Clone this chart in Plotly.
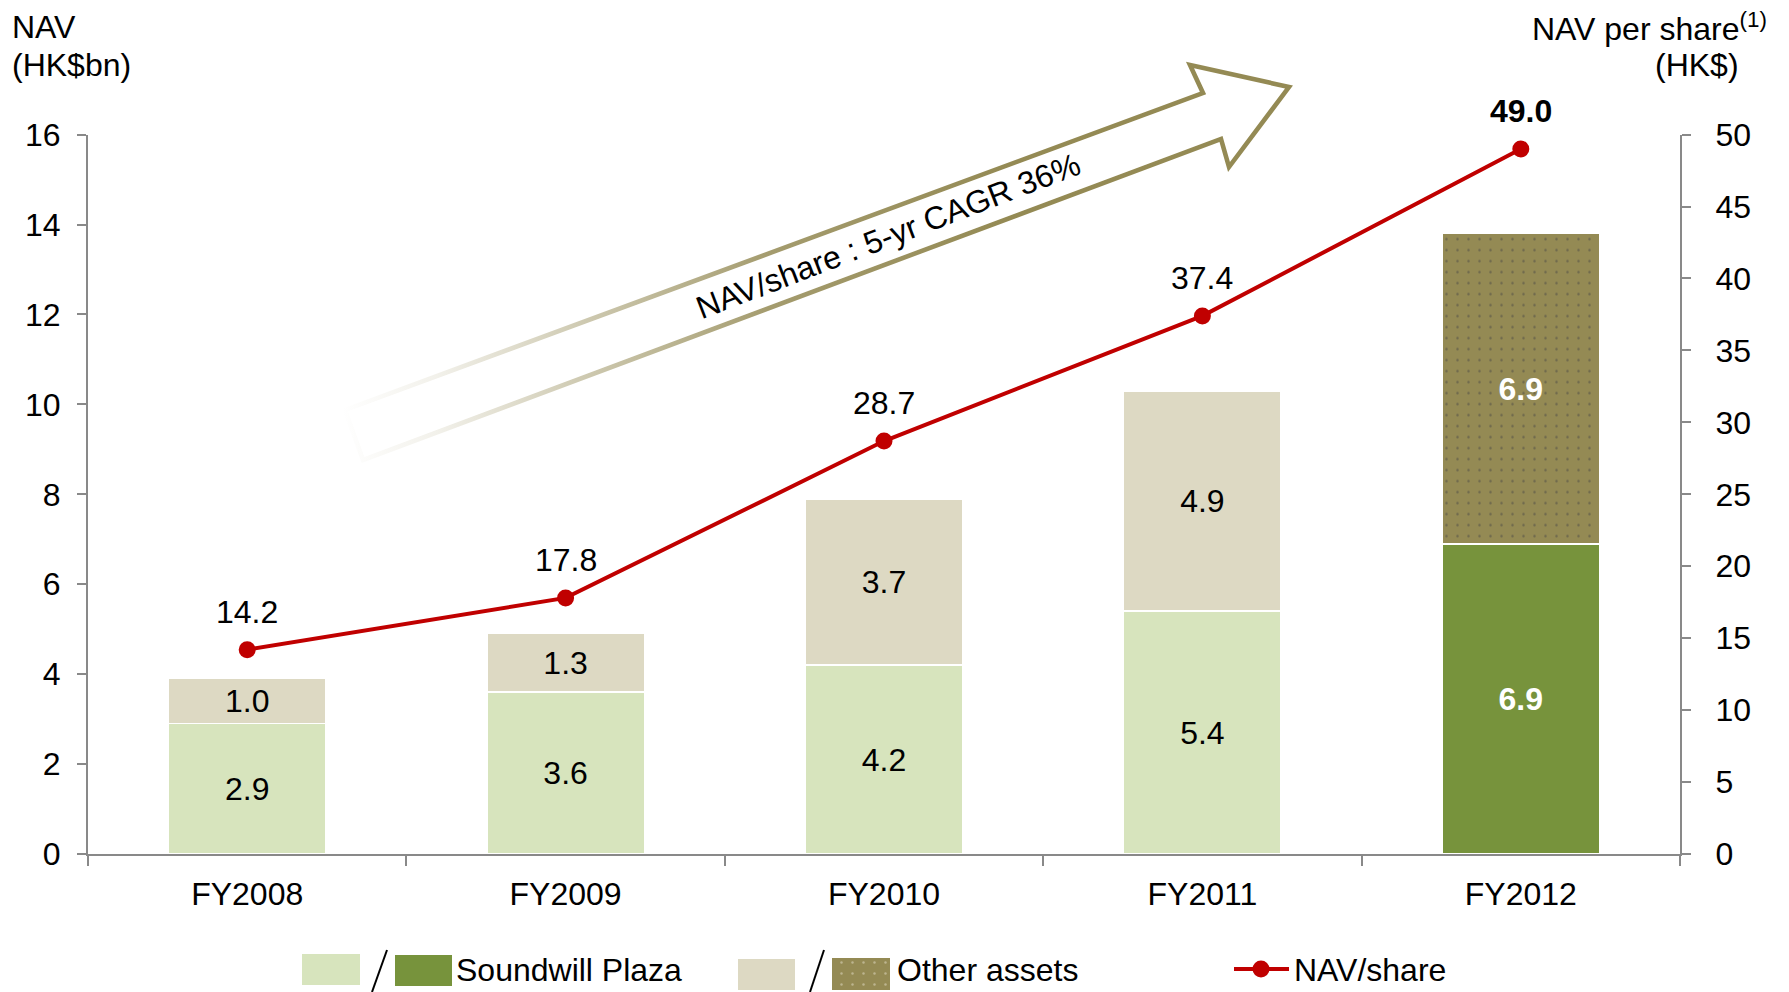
import numpy as np
import plotly.graph_objects as go

W, H = 1789, 992

# ---- data -------------------------------------------------------------
years = ["FY2008", "FY2009", "FY2010", "FY2011", "FY2012"]
soundwill_plaza = [2.9, 3.6, 4.2, 5.4, 6.9]      # HK$bn
other_assets = [1.0, 1.3, 3.7, 4.9, 6.9]         # HK$bn
nav_per_share = [14.2, 17.8, 28.7, 37.4, 49.0]   # HK$

nav_ticks = [0, 2, 4, 6, 8, 10, 12, 14, 16]
nps_ticks = [0, 5, 10, 15, 20, 25, 30, 35, 40, 45, 50]
latest_year = "FY2012"

# ---- styling ----------------------------------------------------------
LIGHT_GREEN = "#D7E4BD"
DARK_GREEN = "#77933C"
BEIGE = "#DDD9C3"
OLIVE = "#948A54"
DOT = "#E4DFC9"
RED = "#C00000"
GREY = "#898989"
FONT = "Arial, Liberation Sans, sans-serif"
FS = 32

highlight = [y == latest_year for y in years]
bottom_colors = [DARK_GREEN if h else LIGHT_GREEN for h in highlight]
top_colors = [OLIVE if h else BEIGE for h in highlight]
top_patterns = ["." if h else "" for h in highlight]
label_colors = ["white" if h else "black" for h in highlight]


def fmt(v, bold):
    return f"<b>{v:.1f}</b>" if bold else f"{v:.1f}"


fig = go.Figure()

# stacked NAV bars
fig.add_bar(
    x=years, y=soundwill_plaza, width=0.495,
    marker=dict(color=bottom_colors, line=dict(color="white", width=1.5)),
    text=[fmt(v, h) for v, h in zip(soundwill_plaza, highlight)],
    textposition="inside", insidetextanchor="middle", textangle=0,
    textfont=dict(family=FONT, size=FS, color=label_colors),
    hoverinfo="skip", showlegend=False,
)
fig.add_bar(
    x=years, y=other_assets, width=0.495,
    marker=dict(color=top_colors, line=dict(color="white", width=1.5),
                pattern=dict(shape=top_patterns, fgcolor=DOT, size=11, solidity=0.04)),
    text=[fmt(v, h) for v, h in zip(other_assets, highlight)],
    textposition="inside", insidetextanchor="middle", textangle=0,
    textfont=dict(family=FONT, size=FS, color=label_colors),
    hoverinfo="skip", showlegend=False,
)

# NAV per share line on the right axis
fig.add_scatter(
    x=years, y=nav_per_share, yaxis="y2", mode="lines+markers",
    line=dict(color=RED, width=4), marker=dict(color=RED, size=17),
    hoverinfo="skip", showlegend=False,
)
for yr, v, h in zip(years, nav_per_share, highlight):
    fig.add_annotation(x=yr, y=v, xref="x", yref="y2", yshift=38,
                       text=fmt(v, h), showarrow=False,
                       font=dict(family=FONT, size=FS, color="black"))


# ---- growth arrow (pixel overlay axes x3/y3) ---------------------------
def offset_polygon(pts, d):
    p = np.asarray(pts, float)
    n = len(p)
    area = 0.5 * np.sum(p[:, 0] * np.roll(p[:, 1], -1) - np.roll(p[:, 0], -1) * p[:, 1])
    sign = 1.0 if area > 0 else -1.0
    out = []
    for i in range(n):
        a, b, c = p[i - 1], p[i], p[(i + 1) % n]
        e1 = (b - a) / np.linalg.norm(b - a)
        e2 = (c - b) / np.linalg.norm(c - b)
        n1 = np.array([e1[1], -e1[0]])
        n2 = np.array([e2[1], -e2[0]])
        m = n1 + n2
        m /= np.linalg.norm(m)
        out.append(b + m * d * sign / np.dot(m, n1))
    out.append(out[0])
    return np.array(out)


arrow_outline = [(345, 410), (1203, 93), (1190, 65), (1289, 87),
                 (1229, 167), (1221, 139), (363, 460)]
outer = offset_polygon(arrow_outline, 2.3)
inner = offset_polygon(arrow_outline, -2.3)

fig.add_scatter(
    x=outer[:, 0], y=outer[:, 1], xaxis="x3", yaxis="y3", mode="lines",
    line=dict(width=0), fill="toself",
    fillgradient=dict(type="horizontal", colorscale=[
        [0.0, "rgba(148,138,84,0)"], [0.1, "rgba(148,138,84,0.12)"],
        [0.25, "rgba(148,138,84,0.45)"], [0.45, "rgba(148,138,84,0.85)"],
        [0.7, "rgba(148,138,84,1)"], [1.0, "rgba(148,138,84,1)"]]),
    hoverinfo="skip", showlegend=False,
)
fig.add_scatter(
    x=inner[:, 0], y=inner[:, 1], xaxis="x3", yaxis="y3", mode="lines",
    line=dict(width=0), fill="toself", fillcolor="white",
    hoverinfo="skip", showlegend=False,
)
fig.add_annotation(x=888, y=236, xref="x3", yref="y3", textangle=-21,
                   text="NAV/share : 5-yr CAGR 36%", showarrow=False,
                   font=dict(family=FONT, size=FS, color="black"))

# ---- legend -----------------------------------------------------------
shapes = [
    dict(type="rect", x0=302, x1=360, y0=954, y1=985, fillcolor=LIGHT_GREEN),
    dict(type="line", x0=372, y0=992, x1=387, y1=950, line=dict(color="black", width=2)),
    dict(type="rect", x0=395, x1=452, y0=955, y1=986, fillcolor=DARK_GREEN),
    dict(type="rect", x0=738, x1=795, y0=959, y1=990, fillcolor=BEIGE),
    dict(type="line", x0=810, y0=992, x1=824, y1=950, line=dict(color="black", width=2)),
    dict(type="line", x0=1234, y0=969, x1=1289, y1=969, line=dict(color=RED, width=4)),
    dict(type="circle", x0=1252.5, x1=1269.5, y0=960.5, y1=977.5, fillcolor=RED,
         line=dict(color=RED, width=0)),
]
for s in shapes:
    s.update(xref="x3", yref="y3", layer="above")
    if s["type"] != "line":
        s.setdefault("line", dict(width=0))
fig.update_layout(shapes=shapes)

fig.add_scatter(
    x=[832, 890, 890, 832, 832], y=[958, 958, 990, 990, 958], xaxis="x3", yaxis="y3",
    mode="lines", line=dict(width=0), fill="toself", fillcolor=OLIVE,
    fillpattern=dict(shape=".", fgcolor=DOT, bgcolor=OLIVE, size=11, solidity=0.04),
    hoverinfo="skip", showlegend=False,
)

legend_texts = [(454, 970, "Soundwill Plaza"), (895, 970, "Other assets"), (1292, 970, "NAV/share")]
for x, y, t in legend_texts:
    fig.add_annotation(x=x, y=y, xref="x3", yref="y3", xanchor="left", yanchor="middle",
                       text=t, showarrow=False, font=dict(family=FONT, size=FS, color="black"))

# ---- axis titles ------------------------------------------------------
titles = [
    (10, 27, "left", "NAV"),
    (10, 65, "left", "(HK$bn)"),
    (1769, 27, "right", "NAV per share<sup>(1)</sup>"),
    (1741, 65, "right", "(HK$)"),
]
for x, y, anchor, t in titles:
    fig.add_annotation(x=x, y=y, xref="x3", yref="y3", xanchor=anchor, yanchor="middle",
                       text=t, showarrow=False, font=dict(family=FONT, size=FS, color="black"))

# ---- layout -----------------------------------------------------------
x_dom = [88 / W, 1680 / W]
y_dom = [1 - 854 / H, 1 - 134.6 / H]
axis_common = dict(showgrid=False, zeroline=False, showline=True, linecolor=GREY,
                   linewidth=2, ticks="outside", tickcolor=GREY, tickwidth=1.5,
                   automargin=False,
                   tickfont=dict(family=FONT, size=FS, color="black"), fixedrange=True)
hidden = dict(visible=False, fixedrange=True, automargin=False,
              showgrid=False, zeroline=False)

fig.update_layout(
    width=W, height=H, autosize=False,
    margin=dict(l=0, r=0, t=0, b=0, pad=0, autoexpand=False),
    paper_bgcolor="white", plot_bgcolor="rgba(0,0,0,0)",
    barmode="stack", bargap=0.5,
    font=dict(family=FONT, size=FS, color="black"),
    xaxis=dict(domain=x_dom, type="category", range=[-0.5, 4.5], anchor="y",
               tickson="boundaries", ticklen=10, ticklabelstandoff=11, **axis_common),
    yaxis=dict(domain=y_dom, range=[0, 16], tickvals=nav_ticks, anchor="x",
               ticklen=9, ticklabelstandoff=10, **axis_common),
    yaxis2=dict(domain=y_dom, range=[0, 50], tickvals=nps_ticks, overlaying="y",
                side="right", anchor="x", ticklen=9, ticklabelstandoff=18, **axis_common),
    xaxis3=dict(domain=[0, 1], range=[0, W], anchor="y3", **hidden),
    yaxis3=dict(domain=[0, 1], range=[H, 0], anchor="x3", **hidden),
)

fig.write_html("out.html")
